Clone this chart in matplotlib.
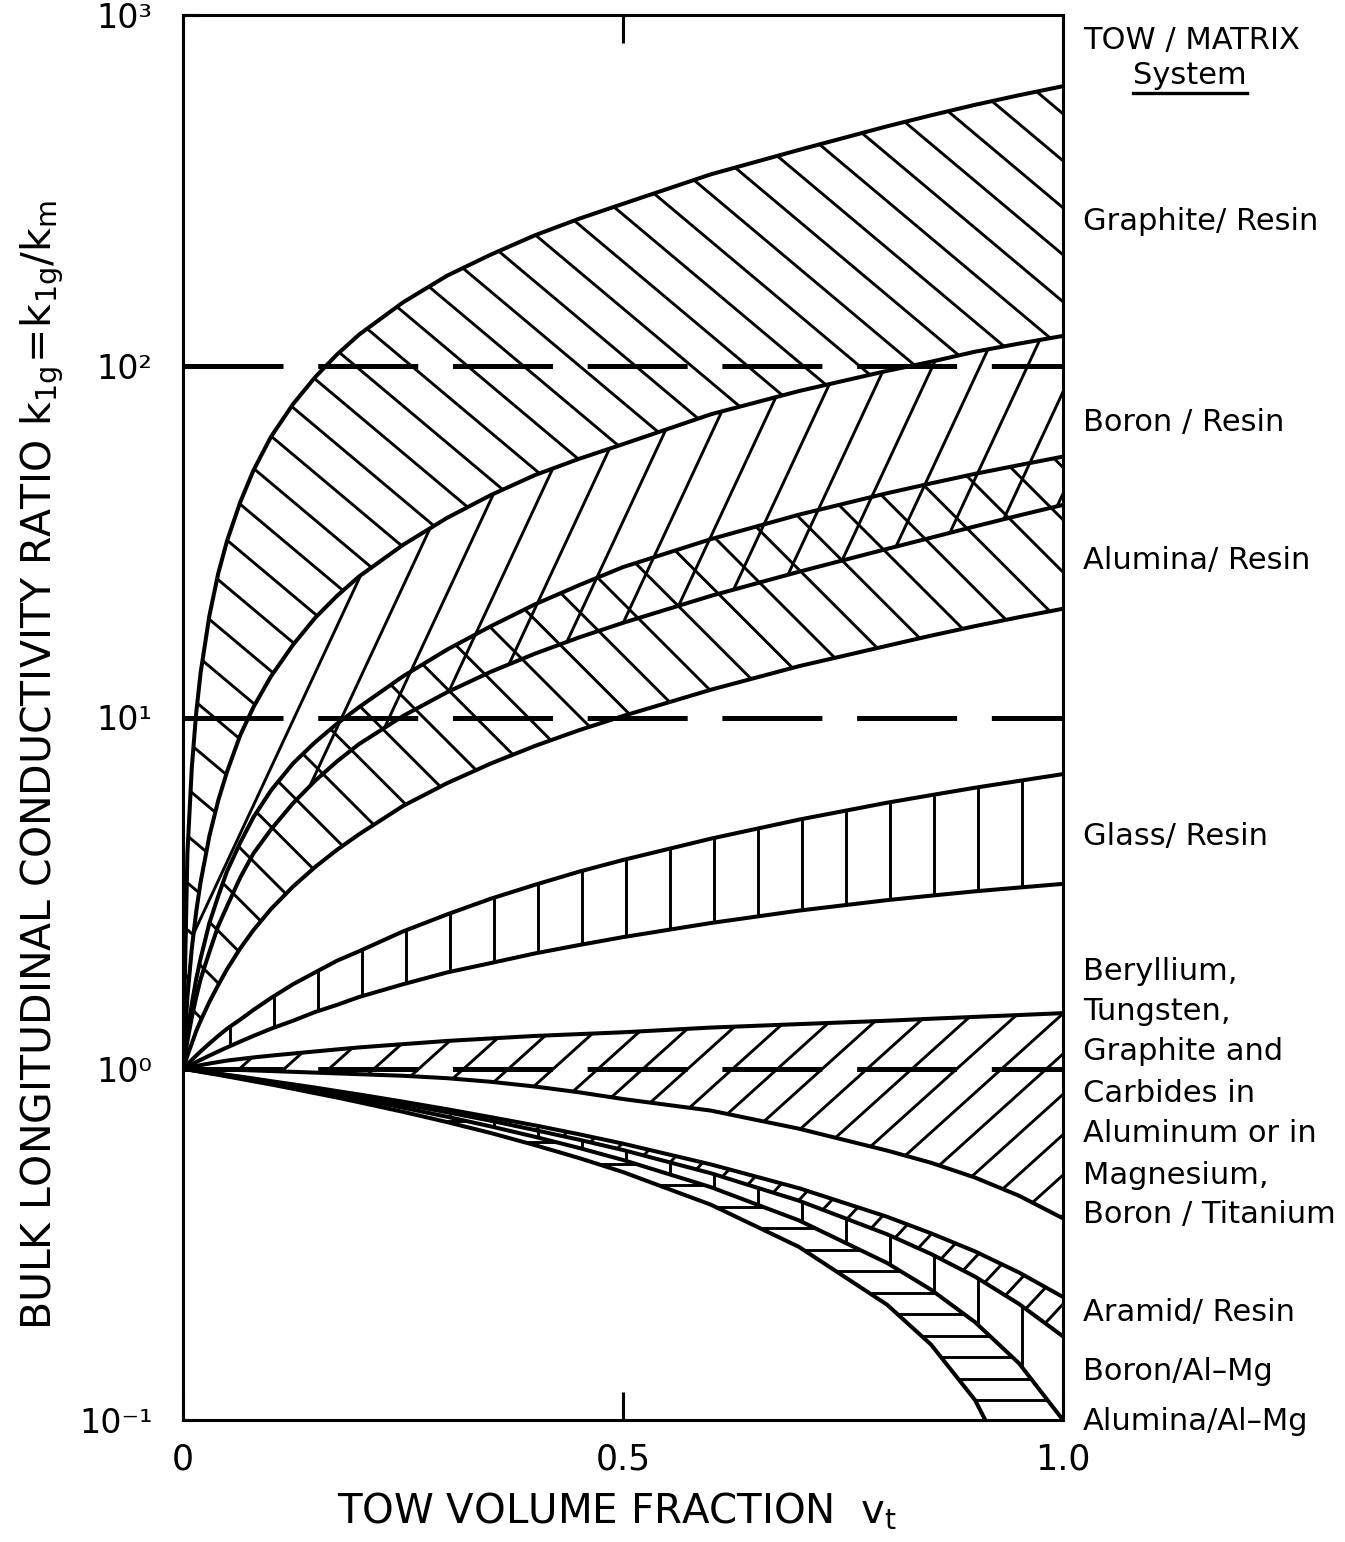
import numpy as np
import matplotlib
matplotlib.use("Agg")
import matplotlib.pyplot as plt
import matplotlib.transforms as mtransforms
from matplotlib.collections import LineCollection
from matplotlib.lines import Line2D
from matplotlib.ticker import NullLocator

plt.rcParams['font.family'] = ['DejaVu Sans']
plt.rcParams['lines.scale_dashes'] = False
plt.rcParams['mathtext.default'] = 'regular'

# ---------------- data ----------------
V = [0, 0.005, 0.01, 0.015, 0.02, 0.03, 0.04, 0.05, 0.065, 0.08, 0.1, 0.125, 0.15, 0.175,
     0.2, 0.25, 0.3, 0.35, 0.4, 0.45, 0.5, 0.6, 0.7, 0.8, 0.85, 0.9, 0.95, 1.0]

graphite_hi = [1, 4.1, 7.2, 10.3, 13.4, 19.5, 25.7, 31.8, 41, 50.5, 63, 78, 93, 108,
               123, 152, 181, 208, 236, 263, 290, 352, 413, 482, 518, 555, 591, 627]
graphite_lo = [1, 1.6, 2.2, 2.8, 3.4, 4.6, 5.8, 7.0, 8.9, 10.7, 13.1, 16.1, 19.2, 22.2,
               25.2, 31, 37, 43, 49, 54.5, 60, 73, 85, 97, 103, 110, 116, 122]
boron_lo = [1, 1.2, 1.4, 1.6, 1.8, 2.15, 2.55, 2.9, 3.5, 4.1, 4.8, 5.7, 6.6, 7.5,
            8.4, 10.1, 11.8, 13.5, 15.2, 16.9, 18.6, 22.2, 26, 30.2, 32.5, 35, 37.6, 40.3]
alumina_hi = [1, 1.27, 1.53, 1.8, 2.06, 2.6, 3.1, 3.65, 4.4, 5.2, 6.2, 7.4, 8.5, 9.6,
              10.7, 13.1, 15.6, 18.2, 21, 23.8, 26.8, 32.2, 37.8, 43.5, 46.4, 49.4, 52.3, 55.3]
alumina_lo = [1, 1.09, 1.18, 1.28, 1.37, 1.55, 1.73, 1.92, 2.2, 2.48, 2.85, 3.3, 3.75, 4.2,
              4.65, 5.6, 6.5, 7.4, 8.3, 9.2, 10.1, 12, 14, 16, 17.1, 18.2, 19.3, 20.4]
glass_hi = [1, 1.03, 1.06, 1.09, 1.12, 1.18, 1.24, 1.3, 1.38, 1.47, 1.59, 1.74, 1.88, 2.03,
            2.16, 2.46, 2.75, 3.05, 3.34, 3.64, 3.93, 4.52, 5.12, 5.72, 6.01, 6.31, 6.6, 6.9]
glass_lo = [1, 1.015, 1.03, 1.045, 1.06, 1.09, 1.12, 1.15, 1.195, 1.24, 1.3, 1.37, 1.45, 1.52,
            1.6, 1.74, 1.88, 2.0, 2.13, 2.25, 2.37, 2.6, 2.82, 3.02, 3.11, 3.2, 3.28, 3.36]
metal_hi = [1, 1.006, 1.012, 1.018, 1.024, 1.035, 1.045, 1.055, 1.066, 1.077, 1.09, 1.105, 1.12, 1.135,
            1.15, 1.175, 1.2, 1.22, 1.24, 1.255, 1.27, 1.31, 1.34, 1.37, 1.388, 1.405, 1.422, 1.44]
metal_lo = [1, 0.9995, 0.999, 0.9985, 0.998, 0.997, 0.996, 0.994, 0.992, 0.989, 0.985, 0.98, 0.975, 0.97,
            0.965, 0.955, 0.94, 0.918, 0.89, 0.857, 0.82, 0.76, 0.675, 0.585, 0.54, 0.49, 0.435, 0.375]
aramid_hi = [1, 0.996, 0.992, 0.988, 0.984, 0.977, 0.969, 0.961, 0.95, 0.938, 0.922, 0.903, 0.884, 0.864,
             0.845, 0.806, 0.767, 0.728, 0.69, 0.651, 0.612, 0.534, 0.457, 0.379, 0.34, 0.302, 0.263, 0.224]
aramid_lo = [1, 0.996, 0.992, 0.988, 0.983, 0.975, 0.967, 0.959, 0.946, 0.934, 0.917, 0.897, 0.876, 0.855,
             0.835, 0.793, 0.752, 0.711, 0.669, 0.628, 0.587, 0.504, 0.421, 0.338, 0.297, 0.256, 0.214, 0.173]
boron_almg_lo = [1, 0.9955, 0.991, 0.9865, 0.982, 0.973, 0.964, 0.955, 0.9415, 0.928, 0.91, 0.8875, 0.865, 0.8425,
                 0.82, 0.775, 0.73, 0.685, 0.64, 0.595, 0.55, 0.46, 0.37, 0.28, 0.235, 0.19, 0.145, 0.1]
alumina_almg_lo = [1, 0.995, 0.99, 0.985, 0.98, 0.97, 0.961, 0.951, 0.936, 0.921, 0.902, 0.877, 0.852, 0.828,
                   0.803, 0.754, 0.705, 0.656, 0.606, 0.557, 0.508, 0.41, 0.311, 0.213, 0.164, 0.114, 0.065, 0.016]

curves = [graphite_hi, graphite_lo, boron_lo, alumina_hi, alumina_lo, glass_hi, glass_lo,
          metal_hi, metal_lo, aramid_hi, aramid_lo, boron_almg_lo, alumina_almg_lo]

dashed_levels = [100, 10, 1]

x_ticks = [0, 0.5, 1.0]
x_tick_labels = ["0", "0.5", "1.0"]
y_ticks = [0.1, 1, 10, 100, 1000]
y_tick_labels = ["10\u207b\u00b9", "10\u2070", "10\u00b9", "10\u00b2", "10\u00b3"]

system_labels = ["Graphite/ Resin", "Boron / Resin", "Alumina/ Resin", "Glass/ Resin",
                 "Beryllium,", "Tungsten,", "Graphite and", "Carbides in",
                 "Aluminum or in", "Magnesium,", "Boron / Titanium",
                 "Aramid/ Resin", "Boron/Al\u2013Mg", "Alumina/Al\u2013Mg"]

# ---------------- layout / style ----------------
FW, FH = 1345, 1542
label_y_px = [222, 422, 560, 837, 972, 1012, 1052, 1093, 1133, 1175, 1215, 1313, 1372, 1422]

fig = plt.figure(figsize=(FW / 100, FH / 100), dpi=100)
L, R, T, B = 183, 1063, 15, 1420
ax = fig.add_axes([L / FW, 1 - B / FH, (R - L) / FW, (B - T) / FH])
ax.set_yscale('log')
ax.set_xlim(0, 1)
ax.set_ylim(0.1, 1000)


def hatch(upper, lower, angle, spacing, ref=(0.0, 0.0), lw=2.1):
    poly = ax.fill_between(V, lower, upper, facecolor='none', edgecolor='none', linewidth=0)
    w, h = ax.bbox.width, ax.bbox.height
    a = np.deg2rad(angle)
    d = np.array([np.cos(a), np.sin(a)])
    n = np.array([-np.sin(a), np.cos(a)])
    corners = np.array([[0, 0], [w, 0], [0, h], [w, h]])
    proj = corners @ n
    c0 = float(np.dot(np.asarray(ref), n))
    kmin = int(np.floor((proj.min() - c0) / spacing)) - 1
    kmax = int(np.ceil((proj.max() - c0) / spacing)) + 1
    big = w + h
    segs = []
    for k in range(kmin, kmax + 1):
        p = (c0 + k * spacing) * n
        segs.append([p - big * d, p + big * d])
    tr = mtransforms.Affine2D().scale(1 / w, 1 / h) + ax.transAxes
    lc = LineCollection(segs, colors='k', linewidths=lw, transform=tr, zorder=2,
                        capstyle='butt')
    ax.add_collection(lc, autolim=False)
    lc.set_clip_path(poly.get_paths()[0], poly.get_transform())
    lc.set_clip_box(ax.bbox)


hatch(graphite_hi, graphite_lo, -40, 36, ref=(20, 900))
hatch(graphite_lo, boron_lo, 65, 43, ref=(300, 700))
hatch(alumina_hi, alumina_lo, -45, 37, ref=(400, 700))
hatch(glass_hi, glass_lo, 90, 44, ref=(3, 0))
hatch(metal_hi, metal_lo, 42, 30, ref=(100, 350))
hatch(aramid_hi, aramid_lo, 47, 24, ref=(100, 300))
hatch(aramid_lo, boron_almg_lo, 90, 44, ref=(3, 0))
hatch(boron_almg_lo, alumina_almg_lo, 0, 21.5, ref=(0, 20))

for c in curves:
    ax.plot(V, c, color='k', lw=2.9, solid_capstyle='round', solid_joinstyle='round', zorder=3)

for lev in dashed_levels:
    ax.axhline(lev, color='k', lw=3.6, ls=(0, (72, 25)), zorder=3)

for s in ax.spines.values():
    s.set_linewidth(2.2)

ax.set_xticks(x_ticks)
ax.set_xticklabels(x_tick_labels)
ax.set_yticks(y_ticks)
ax.set_yticklabels(y_tick_labels)
ax.yaxis.set_minor_locator(NullLocator())
ax.xaxis.set_minor_locator(NullLocator())
ax.tick_params(axis='x', direction='in', top=True, length=20, width=2.2,
               labelsize=25, pad=16)
ax.tick_params(axis='y', direction='in', length=11, width=2.2, labelsize=24, pad=22)

# axis titles
fig.text(42 / FW, 1 - 765 / FH,
         r"BULK LONGITUDINAL CONDUCTIVITY RATIO $k_{1g}\!=\!k_{1g}/k_m$",
         rotation=90, ha='center', va='center', fontsize=29.5)
fig.text(617 / FW, 1 - 1512 / FH, r"TOW VOLUME FRACTION  $v_t$",
         ha='center', va='center', fontsize=29)

# right-hand labels
fig.text(1083 / FW, 1 - 40 / FH, "TOW / MATRIX", ha='left', va='center', fontsize=22)
sys_t = fig.text(1133 / FW, 1 - 75 / FH, "System", ha='left', va='center', fontsize=22)
for lab, ypx in zip(system_labels, label_y_px):
    fig.text(1083 / FW, 1 - ypx / FH, lab, ha='left', va='center', fontsize=22)

fig.canvas.draw()
bb = sys_t.get_window_extent()
fig.add_artist(Line2D([bb.x0, bb.x1], [bb.y0 - 3, bb.y0 - 3], color='k', lw=2.4,
                      transform=mtransforms.IdentityTransform()))

fig.savefig("out.png", dpi=100)
